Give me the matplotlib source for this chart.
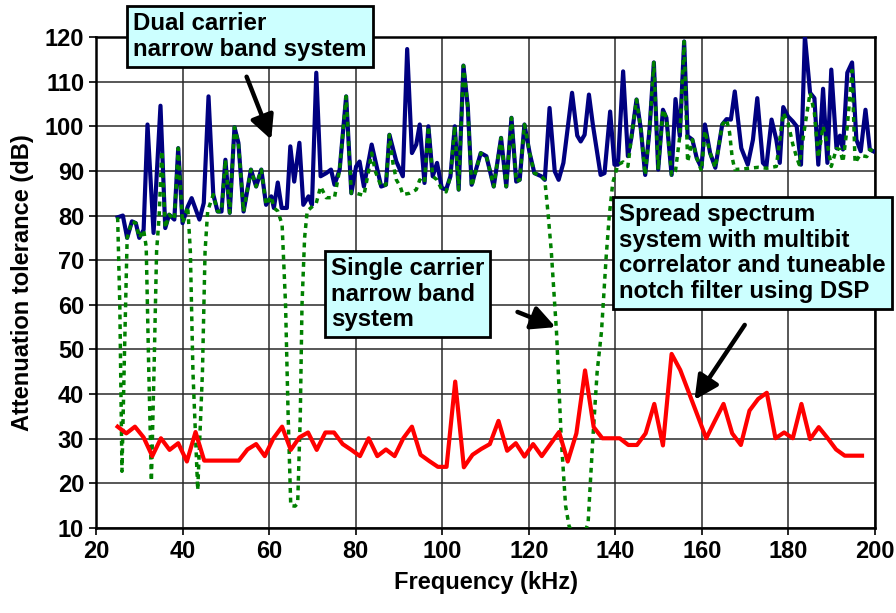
import matplotlib.pyplot as plt

plt.rcParams['font.family'] = ['Liberation Sans', 'DejaVu Sans']
plt.rcParams['font.weight'] = 'bold'

# dual carrier narrow band system (blue)
dual_x = [25.0, 26.2, 27.2, 28.3, 29.2, 30.0, 31.0, 31.9, 33.3, 34.9, 36.0, 36.9, 38.1, 39.0, 40.0,
          41.2, 42.1, 43.9, 44.9, 46.0, 47.1, 48.1, 49.0, 49.9, 50.9, 52.0, 52.9, 54.1, 55.8, 57.0,
          58.2, 59.3, 60.5, 61.1, 62.0, 62.9, 64.1, 64.9, 65.8, 67.0, 67.9, 69.1, 69.9, 70.9, 71.9,
          73.2, 74.3, 75.1, 76.3, 77.8, 79.0, 80.1, 80.9, 81.9, 83.7, 85.9, 87.0, 87.8, 89.4, 90.9,
          91.9, 93.0, 94.0, 94.8, 95.9, 96.8, 97.8, 98.8, 99.9, 100.9, 101.9, 102.9, 103.8, 104.9,
          105.9, 106.8, 108.9, 110.2, 111.9, 113.6, 114.8, 116.0, 117.1, 117.9, 119.0, 120.2, 121.3,
          122.9, 123.7, 124.8, 126.0, 126.9, 128.0, 130.0, 131.2, 132.0, 132.9, 133.9, 134.8, 136.6,
          137.5, 138.8, 139.8, 140.6, 141.8, 142.9, 143.7, 144.9, 145.9, 146.9, 147.9, 148.9, 149.9,
          151.0, 151.8, 153.0, 153.9, 154.9, 155.9, 156.7, 157.8, 158.8, 159.9, 160.7, 161.9, 163.1,
          164.7, 165.7, 166.7, 167.6, 169.1, 170.6, 171.8, 172.8, 174.1, 174.9, 176.1, 177.2, 178.0,
          178.8, 179.9, 181.0, 181.9, 182.9, 183.8, 185.0, 186.0, 186.9, 188.0, 189.0, 189.9, 191.1,
          191.9, 192.6, 193.6, 194.7, 195.7, 196.7, 197.8, 198.8, 199.6]
dual_y = [79.6, 80.0, 75.0, 78.7, 78.3, 75.0, 76.8, 100.4, 76.1, 104.6, 77.2, 80.2, 79.1, 95.1, 78.3,
          82.0, 83.9, 79.1, 82.8, 106.7, 84.7, 80.9, 80.9, 92.5, 80.6, 99.8, 96.3, 80.9, 90.3, 86.5,
          90.3, 82.4, 84.3, 81.7, 87.4, 81.7, 81.7, 95.5, 87.6, 96.3, 82.4, 84.3, 82.4, 112.0, 88.8,
          89.5, 90.3, 86.9, 90.3, 106.7, 85.0, 91.0, 92.1, 86.5, 95.9, 86.5, 86.9, 98.1, 92.1, 88.8,
          117.3, 94.0, 95.9, 100.4, 87.3, 100.0, 88.8, 91.8, 86.2, 85.8, 88.8, 100.0, 85.8, 113.6,
          104.5, 86.9, 94.0, 93.3, 86.5, 97.4, 86.5, 101.9, 87.6, 88.0, 100.4, 94.0, 89.5,
          88.8, 88.0, 104.1, 89.9, 88.0, 91.8, 107.5, 97.9, 96.6, 98.1, 107.1, 100.4, 89.1,
          89.5, 103.3, 91.4, 91.4, 112.3, 93.3, 97.4, 106.0, 99.3, 89.1, 99.3, 114.3, 90.3,
          103.7, 101.9, 89.1, 106.1, 97.8, 119.0, 97.8, 97.0, 92.9, 90.7, 100.4, 94.0, 90.7,
          100.4, 101.6, 101.5, 107.8, 95.1, 91.4, 97.0, 106.3, 91.8, 91.0, 101.5, 97.0, 91.8,
          104.3, 102.2, 101.1, 100.0, 91.4, 120.2, 107.5, 106.3, 91.4, 108.4, 91.8, 112.7, 95.1,
          97.9, 94.8, 112.0, 114.3, 97.0, 94.4, 103.7, 94.8, 94.4]

# single carrier narrow band system (green dotted)
single_x = [25.0, 25.5, 26.0, 26.6, 27.2, 28.3, 29.2, 30.0, 31.0, 31.6, 32.2, 32.8, 33.4, 34.0, 34.6,
            35.2, 36.0, 36.9, 38.1, 39.0, 40.0, 41.2, 41.8, 42.4, 43.5, 44.6, 45.2, 45.8, 47.1, 48.1,
            49.0, 49.9, 50.9, 52.0, 52.9, 54.1, 55.8, 57.0, 58.2, 59.3, 60.5, 61.1, 62.0, 63.0, 63.8,
            64.4, 65.0, 66.0, 66.6, 67.2, 67.6, 68.2, 68.8, 70.9, 71.9, 73.2, 75.1, 76.3, 77.8, 79.0,
            80.1, 81.9, 83.0, 83.7, 84.5, 85.9, 87.0, 87.8, 88.6, 89.4, 90.3, 90.9, 92.5, 94.0, 94.8,
            95.9, 96.8, 97.8, 98.8, 99.9, 100.9, 101.9, 102.9, 103.8, 104.9, 105.9, 106.8, 108.9,
            110.2, 111.9, 113.6, 114.8, 116.0, 117.1, 117.9, 119.0, 120.2, 121.3, 122.9, 123.7, 124.5,
            125.2, 126.4, 127.5, 128.5, 129.3, 130.5, 132.5, 133.7, 134.8, 135.8, 136.8, 137.9, 138.6,
            139.4, 140.6, 141.8, 142.9, 143.7, 144.9, 145.9, 146.9, 147.9, 148.9, 149.9, 151.0, 151.8,
            153.0, 153.9, 154.9, 155.9, 156.7, 157.8, 158.8, 159.9, 160.7, 161.9, 163.1, 164.7, 165.7,
            166.4, 167.0, 167.6, 170.0, 173.0, 175.0, 177.2, 178.0, 178.8, 179.9, 181.0, 181.9, 182.5,
            183.8, 185.0, 186.0, 186.9, 188.0, 189.0, 189.9, 191.1, 191.9, 192.6, 193.6, 194.7, 195.4,
            196.5, 198.1, 198.8, 199.6]
single_y = [79.6, 60.0, 22.7, 50.0, 75.0, 78.7, 78.3, 75.0, 76.8, 73.0, 45.0, 20.5, 45.0, 72.0, 80.0,
            94.5, 77.2, 80.2, 79.1, 95.1, 78.3, 82.0, 72.0, 45.0, 18.5, 45.0, 72.0, 81.0, 84.7, 80.9,
            80.9, 92.5, 80.6, 99.8, 96.3, 80.9, 90.3, 86.5, 90.3, 82.4, 84.3, 81.7, 81.0, 78.0, 60.0,
            35.0, 15.0, 14.9, 15.5, 35.0, 60.0, 75.0, 81.0, 82.8, 86.5, 84.0, 84.0, 90.3, 106.7, 85.0,
            85.0, 84.5, 90.0, 94.0, 90.0, 86.5, 86.9, 98.1, 91.8, 88.0, 86.5, 84.7, 85.0, 85.8, 88.0,
            87.3, 100.0, 88.8, 88.0, 85.8, 85.3, 88.8, 100.0, 85.8, 113.6, 104.5, 86.5, 94.0,
            93.3, 86.5, 97.4, 86.5, 101.9, 87.6, 88.0, 100.4, 94.0, 89.5, 88.8, 88.0, 80.0,
            72.0, 54.0, 30.0, 15.0, 10.5, 8.0, 8.0, 11.0, 30.0, 45.0, 54.0, 71.0, 80.0,
            87.3, 91.4, 92.0, 91.0, 97.4, 106.0, 99.3, 89.1, 99.3, 114.3, 90.3, 103.7, 101.9,
            89.1, 90.0, 97.8, 119.0, 92.0, 97.0, 92.9, 90.0, 99.0, 94.0, 90.7, 100.4, 101.5,
            98.6, 93.0, 90.3, 90.5, 90.8, 90.6, 91.0, 97.0, 103.0, 100.8, 96.0, 93.0, 91.4,
            100.0, 107.5, 103.0, 93.0, 100.0, 96.0, 91.0, 95.0, 94.8, 92.0, 100.0, 112.5, 91.8,
            93.5, 93.2, 94.8, 94.4]

# spread spectrum system (red)
spread_x = list(range(25, 198, 2))
spread_y = [32.7, 31.2, 32.7, 30.3, 26.1, 30.1, 27.5, 29.0, 24.9, 31.5, 25.1, 25.1, 25.1, 25.1, 25.1,
            27.6, 28.8, 26.1, 30.1, 32.7, 27.5, 30.3, 31.4, 27.5, 31.4, 31.4, 28.8, 27.5, 26.1, 30.1,
            26.1, 27.6, 26.1, 30.1, 32.7, 26.4, 25.0, 23.7, 23.7, 42.8, 23.6, 26.4, 27.7, 28.8, 34.0,
            27.3, 29.0, 26.0, 28.8, 26.1, 28.8, 31.5, 24.9, 31.2, 45.3, 32.6, 30.1, 30.1, 30.1, 28.6,
            28.6, 31.2, 37.8, 28.5, 49.0, 45.4, 40.3, 35.2, 30.1, 34.0, 37.8, 31.2, 28.6, 36.3, 38.9,
            40.3, 30.1, 31.4, 30.1, 37.8, 29.9, 32.6, 30.2, 27.6, 26.2, 26.2, 26.2]

W, H = 896, 613
fig = plt.figure(figsize=(W / 100, H / 100), dpi=100)
ax = fig.add_axes([96 / W, 1 - 528 / H, (875 - 96) / W, (528 - 37) / H])

ax.plot(dual_x, dual_y, color='#000080', lw=3.0, zorder=3)
ax.plot(single_x, single_y, color='#008000', lw=2.5, linestyle=(0, (1.4, 1.4)), zorder=4)
ax.plot(spread_x, spread_y, color='#ff0000', lw=3.0, zorder=5)

ax.set_xlim(20, 200)
ax.set_ylim(10, 120)
ax.set_xticks(range(20, 201, 20))
ax.set_yticks(range(10, 121, 10))
ax.grid(True, color='#2a2a2a', lw=1.1)
ax.set_axisbelow(True)
for s in ax.spines.values():
    s.set_linewidth(1.8)
ax.tick_params(direction='out', length=5, width=1.2, labelsize=17)
ax.set_xlabel('Frequency (kHz)', fontsize=17, fontweight='bold', labelpad=6)
ax.set_ylabel('Attenuation tolerance (dB)', fontsize=17, fontweight='bold', labelpad=8)

# callout boxes (pixel positions of the top-left corner of the text)
box = dict(boxstyle='square,pad=0.25', fc='#ccffff', ec='black', lw=2.0)
def label(px, py, txt):
    fig.text(px / W, 1 - py / H, txt, ha='left', va='top', fontsize=17.3, fontweight='bold',
             linespacing=1.15, bbox=box, zorder=10)

label(133, 12, 'Dual carrier\nnarrow band system')
label(331, 257, 'Single carrier\nnarrow band\nsystem')
label(619, 203, 'Spread spectrum\nsystem with multibit\ncorrelator and tuneable\nnotch filter using DSP')

arrow = dict(arrowstyle='-|>,head_length=0.6,head_width=0.3', mutation_scale=24,
             lw=3.2, color='black', shrinkA=0, shrinkB=0)
ax.annotate('', xy=(60.5, 97), xytext=(54.8, 111.1), arrowprops=arrow, zorder=9)
ax.annotate('', xy=(126.2, 55), xytext=(117.4, 58.4), arrowprops=arrow, zorder=9)
ax.annotate('', xy=(158.3, 38.7), xytext=(169.9, 55.5), arrowprops=arrow, zorder=9)

fig.savefig('out.png', dpi=100)
